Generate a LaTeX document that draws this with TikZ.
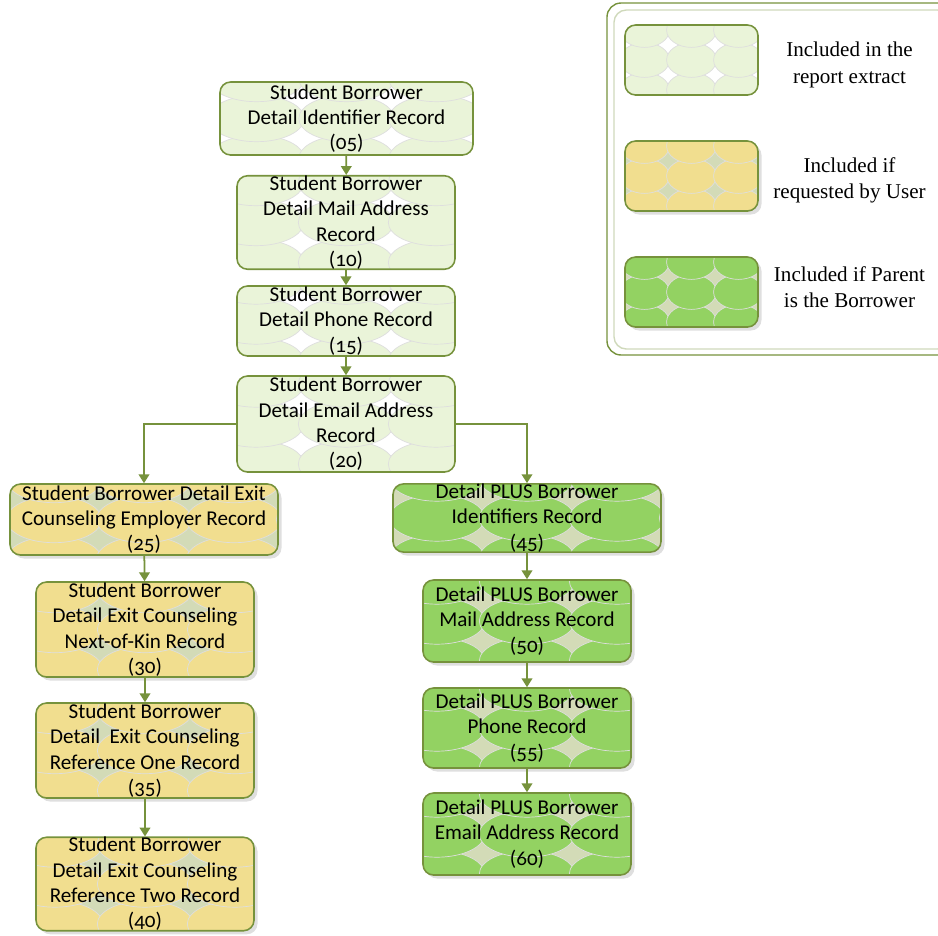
\documentclass[tikz,border=0pt]{standalone}
\usepackage{fontspec}
\setmainfont{Liberation Serif}
\newfontfamily\boxfont[Numbers=OldStyle]{Carlito}
\usetikzlibrary{arrows.meta,shadows}

\definecolor{rimgreen}{HTML}{76923C}
\definecolor{paleleaf}{HTML}{EAF4D9}
\definecolor{sand}{HTML}{F1DE8F}
\definecolor{sage}{HTML}{D3DBB7}
\definecolor{leaf}{HTML}{93D262}

% ellipse tiling inside a node: colour, x step, y step
\newcommand{\cellgrid}[3]{%
  \foreach \i in {-4,...,4}
    \foreach \j in {-5,...,5}
      \filldraw[fill=#1, draw=black!13, line width=0.4pt]
        ([shift={(\i*#2,\j*#3)}]path picture bounding box.center)
        ellipse [x radius={0.53*#2}, y radius={0.58*#3}];
}

\begin{document}
\begin{tikzpicture}[
  rec/.style={draw=rimgreen, line width=0.9pt, rounded corners=6pt, align=center,
    inner sep=0pt, font=\boxfont\fontsize{12}{14.4}\selectfont},
  recplain/.style={rec, fill=white, path picture={\cellgrid{paleleaf}{1.8}{0.8}}},
  recuser/.style={rec, fill=sage, drop shadow={opacity=0.25, shadow xshift=2pt, shadow yshift=-2pt},
    path picture={\cellgrid{sand}{1.8}{0.8}}},
  recparent/.style={rec, fill=sage, drop shadow={opacity=0.25, shadow xshift=2pt, shadow yshift=-2pt},
    path picture={\cellgrid{leaf}{1.8}{0.8}}},
  swatch/.style={minimum width=2.66cm, minimum height=1.4cm},
  keytext/.style={align=center, font=\fontsize{12}{15}\selectfont},
  link/.style={draw=rimgreen, line width=1pt, -{Triangle[length=5pt,width=6pt]}},
]
  \useasboundingbox (0,0) rectangle (18.76,-18.7);

  % main chain of student records
  \node[recplain, minimum width=5.06cm, minimum height=1.46cm] (r05) at (6.93,-2.37)
    {Student Borrower\\Detail Identifier Record\\(05)};
  \node[recplain, minimum width=4.36cm, minimum height=1.82cm] (r10) at (6.92,-4.45)
    {Student Borrower\\Detail Mail Address\\Record\\(10)};
  \node[recplain, minimum width=4.36cm, minimum height=1.40cm] (r15) at (6.92,-6.42)
    {Student Borrower\\Detail Phone Record\\(15)};
  \node[recplain, minimum width=4.36cm, minimum height=1.92cm] (r20) at (6.92,-8.48)
    {Student Borrower\\Detail Email Address\\Record\\(20)};

  % exit counseling branch
  \node[recuser, minimum width=5.36cm, minimum height=1.42cm] (r25) at (2.88,-10.39)
    {Student Borrower Detail Exit\\Counseling Employer Record\\(25)};
  \node[recuser, minimum width=4.36cm, minimum height=1.90cm] (r30) at (2.90,-12.59)
    {Student Borrower\\Detail Exit Counseling\\Next-of-Kin Record\\(30)};
  \node[recuser, minimum width=4.36cm, minimum height=1.90cm] (r35) at (2.90,-15.01)
    {Student Borrower\\Detail\ \ Exit Counseling\\Reference One Record\\(35)};
  \node[recuser, minimum width=4.36cm, minimum height=1.84cm] (r40) at (2.90,-17.68)
    {Student Borrower\\Detail Exit Counseling\\Reference Two Record\\(40)};

  % PLUS borrower branch
  \node[recparent, minimum width=5.36cm, minimum height=1.36cm] (r45) at (10.54,-10.36)
    {Detail PLUS Borrower\\Identifiers Record\\(45)};
  \node[recparent, minimum width=4.16cm, minimum height=1.64cm] (r50) at (10.54,-12.42)
    {Detail PLUS Borrower\\Mail Address Record\\(50)};
  \node[recparent, minimum width=4.16cm, minimum height=1.60cm] (r55) at (10.54,-14.56)
    {Detail PLUS Borrower\\Phone Record\\(55)};
  \node[recparent, minimum width=4.16cm, minimum height=1.64cm] (r60) at (10.54,-16.68)
    {Detail PLUS Borrower\\Email Address Record\\(60)};

  \draw[link] (r05) -- (r10);
  \draw[link] (r10) -- (r15);
  \draw[link] (r15) -- (r20);
  \draw[link] (r20.west) -| (r25.north);
  \draw[link] (r20.east) -| (r45.north);
  \draw[link] (r25) -- (r30);
  \draw[link] (r30) -- (r35);
  \draw[link] (r35) -- (r40);
  \draw[link] (r45) -- (r50);
  \draw[link] (r50) -- (r55);
  \draw[link] (r55) -- (r60);

  % legend
  \draw[rimgreen, line width=0.8pt, rounded corners=8pt] (12.14,-0.06) rectangle (19.1,-7.1);
  \draw[rimgreen!35, line width=0.8pt, rounded corners=7pt] (12.28,-0.2) rectangle (19.0,-6.98);
  \node[rec, swatch, fill=white, path picture={\cellgrid{paleleaf}{0.94}{0.6}}] (keyplain) at (13.83,-1.2) {};
  \node[rec, swatch, fill=sage, drop shadow={opacity=0.25, shadow xshift=2pt, shadow yshift=-2pt},
    path picture={\cellgrid{sand}{0.94}{0.6}}] (keyuser) at (13.83,-3.52) {};
  \node[rec, swatch, fill=sage, drop shadow={opacity=0.25, shadow xshift=2pt, shadow yshift=-2pt},
    path picture={\cellgrid{leaf}{0.94}{0.6}}] (keyparent) at (13.83,-5.84) {};
  \node[keytext] (txtplain) at (16.99,-1.3) {Included in the\\report extract};
  \node[keytext] (txtuser) at (16.99,-3.61) {Included if\\requested by User};
  \node[keytext] (txtparent) at (16.99,-5.74) {Included if Parent\\is the Borrower};
\end{tikzpicture}
\end{document}
